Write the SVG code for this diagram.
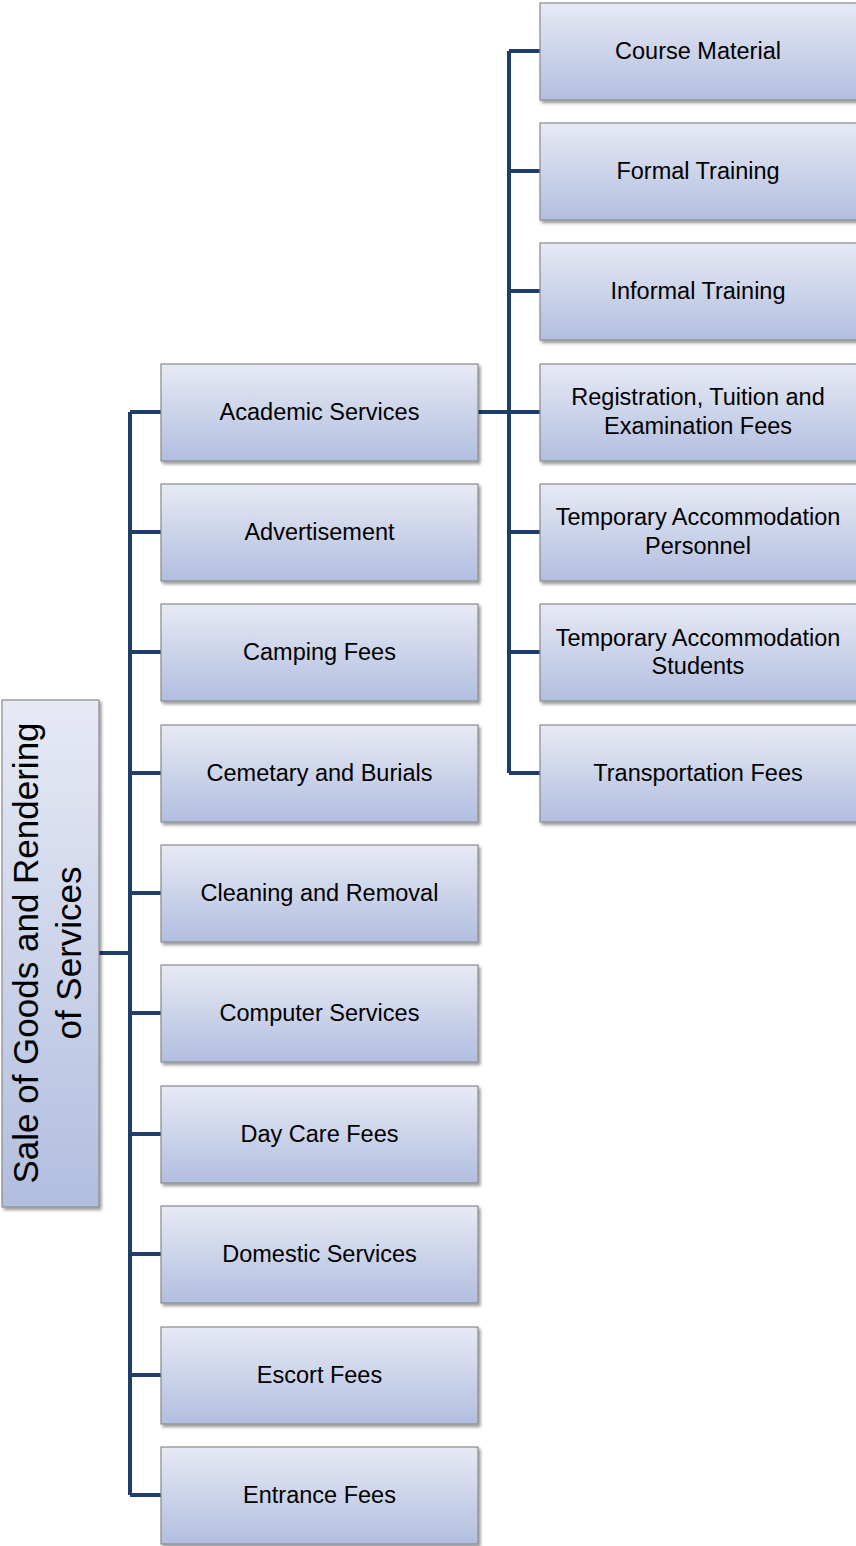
<svg xmlns="http://www.w3.org/2000/svg" width="856" height="1546" viewBox="0 0 856 1546">
<defs>
<linearGradient id="g" x1="0" y1="0" x2="0" y2="1">
<stop offset="0" stop-color="#e7eaf5"/>
<stop offset="1" stop-color="#b2bedf"/>
</linearGradient>
<filter id="sh" x="-10%" y="-10%" width="130%" height="130%">
<feDropShadow dx="2" dy="2.5" stdDeviation="1.5" flood-color="#000" flood-opacity="0.4"/>
</filter>
</defs>
<style>
.box{fill:url(#g);stroke:#8a8a8a;stroke-width:1.2;filter:url(#sh)}
.t{font-family:"Liberation Sans",Arial,sans-serif;font-size:23.5px;fill:#000;text-anchor:middle}
.r{font-family:"Liberation Sans",Arial,sans-serif;font-size:35px;fill:#000;text-anchor:middle}
.c{fill:none;stroke:#1f3e6c;stroke-width:4;stroke-linejoin:miter}
</style>
<g id="connectors">
<path class="c" d="M99 953H130M130 412V1495M130 412H161M130 532H161M130 652H161M130 773H161M130 893H161M130 1013H161M130 1134H161M130 1254H161M130 1375H161M130 1495H161"/>
<path class="c" d="M478 412H509M509 51V773M509 51H540M509 171H540M509 291H540M509 412H540M509 532H540M509 652H540M509 773H540"/>
</g>
<g id="root">
<rect class="box" x="2" y="700" width="97" height="507"/>
<text class="r" transform="translate(38,953) rotate(-90)">Sale of Goods and Rendering</text>
<text class="r" transform="translate(81,953) rotate(-90)">of Services</text>
</g>
<g id="n1"><rect class="box" x="161" y="364" width="317" height="97"/><text class="t" x="319.5" y="420">Academic Services</text></g>
<g id="n2"><rect class="box" x="161" y="484" width="317" height="97"/><text class="t" x="319.5" y="540">Advertisement</text></g>
<g id="n3"><rect class="box" x="161" y="604" width="317" height="97"/><text class="t" x="319.5" y="660">Camping Fees</text></g>
<g id="n4"><rect class="box" x="161" y="725" width="317" height="97"/><text class="t" x="319.5" y="781">Cemetary and Burials</text></g>
<g id="n5"><rect class="box" x="161" y="845" width="317" height="97"/><text class="t" x="319.5" y="901">Cleaning and Removal</text></g>
<g id="n6"><rect class="box" x="161" y="965" width="317" height="97"/><text class="t" x="319.5" y="1021">Computer Services</text></g>
<g id="n7"><rect class="box" x="161" y="1086" width="317" height="97"/><text class="t" x="319.5" y="1142">Day Care Fees</text></g>
<g id="n8"><rect class="box" x="161" y="1206" width="317" height="97"/><text class="t" x="319.5" y="1262">Domestic Services</text></g>
<g id="n9"><rect class="box" x="161" y="1327" width="317" height="97"/><text class="t" x="319.5" y="1383">Escort Fees</text></g>
<g id="n10"><rect class="box" x="161" y="1447" width="317" height="97"/><text class="t" x="319.5" y="1503">Entrance Fees</text></g>
<g id="s1"><rect class="box" x="540" y="3" width="318" height="97"/><text class="t" x="698" y="59">Course Material</text></g>
<g id="s2"><rect class="box" x="540" y="123" width="318" height="97"/><text class="t" x="698" y="179">Formal Training</text></g>
<g id="s3"><rect class="box" x="540" y="243" width="318" height="97"/><text class="t" x="698" y="299">Informal Training</text></g>
<g id="s4"><rect class="box" x="540" y="364" width="318" height="97"/><text class="t" x="698" y="405">Registration, Tuition and</text><text class="t" x="698" y="434">Examination Fees</text></g>
<g id="s5"><rect class="box" x="540" y="484" width="318" height="97"/><text class="t" x="698" y="525">Temporary Accommodation</text><text class="t" x="698" y="554">Personnel</text></g>
<g id="s6"><rect class="box" x="540" y="604" width="318" height="97"/><text class="t" x="698" y="646">Temporary Accommodation</text><text class="t" x="698" y="674">Students</text></g>
<g id="s7"><rect class="box" x="540" y="725" width="318" height="97"/><text class="t" x="698" y="781">Transportation Fees</text></g>
</svg>
